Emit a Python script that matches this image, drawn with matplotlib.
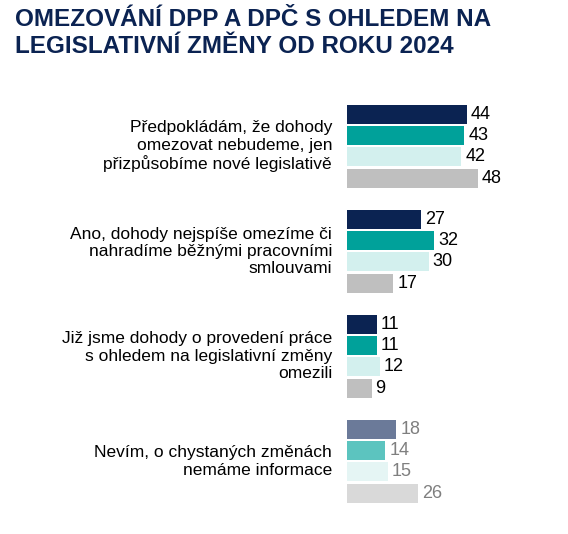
import matplotlib.pyplot as plt

categories = [
    "Předpokládám, že dohody\nomezovat nebudeme, jen\npřizpůsobíme nové legislativě",
    "Ano, dohody nejspíše omezíme či\nnahradíme běžnými pracovními\nsmlouvami",
    "Již jsme dohody o provedení práce\ns ohledem na legislativní změny\nomezili",
    "Nevím, o chystaných změnách\nnemáme informace",
]
values = [
    [44, 43, 42, 48],
    [27, 32, 30, 17],
    [11, 11, 12, 9],
    [18, 14, 15, 26],
]
colors = ["#0B2352", "#00A19A", "#D3F0EE", "#BFBFBF"]
faded = ["#6B7A99", "#5CC4BF", "#E5F5F4", "#D9D9D9"]

plt.rcParams["font.family"] = ["Liberation Sans", "DejaVu Sans"]
fig = plt.figure(figsize=(5.68, 5.34), dpi=100)
W, H = 568, 534
ax = fig.add_axes([347 / W, 1 - 503 / H, 218 / W, 400 / H])
ax.set_xlim(0, 80)

pitch, gpitch = 21.2, 105
for g, vals in enumerate(values):
    pal = faded if g == 3 else colors
    tcol = "#7F7F7F" if g == 3 else "#000000"
    for j, v in enumerate(vals):
        y = 2 + g * gpitch + j * pitch
        ax.barh(y, v, height=19, color=pal[j], align="edge")
        ax.text(v + 1.5, y + 9.5, str(v), va="center", ha="left", fontsize=13, color=tcol)
    ax.text(-5.5, 2 + g * gpitch + 2 * pitch - 1, categories[g], ha="right", va="center",
            fontsize=12.5, color="#000000", linespacing=1.2)
ax.set_ylim(400, 0)
ax.axis("off")

fig.text(15 / W, 1 - 8 / H, "OMEZOVÁNÍ DPP A DPČ S OHLEDEM NA\nLEGISLATIVNÍ ZMĚNY OD ROKU 2024",
         ha="left", va="top", fontsize=17.5, fontweight="bold", color="#0B2352", linespacing=1.2)
fig.savefig("out.png", dpi=100)
